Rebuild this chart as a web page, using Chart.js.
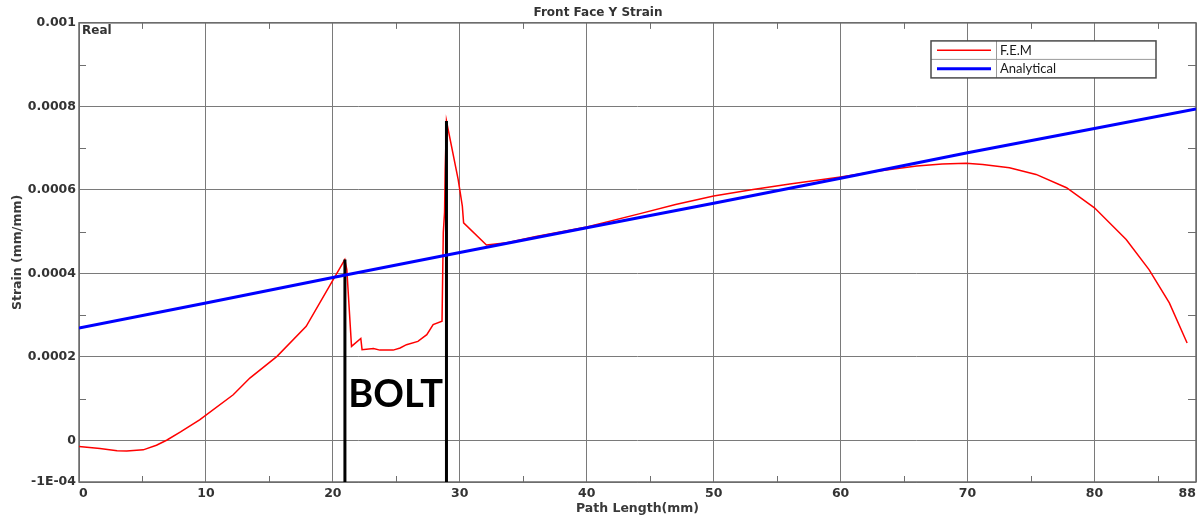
<!DOCTYPE html>
<html>
<head>
<meta charset="utf-8">
<title>Front Face Y Strain</title>
<script src="https://cdn.jsdelivr.net/npm/chart.js@4.4.0/dist/chart.umd.min.js"></script>
<style>
  html, body { margin: 0; padding: 0; background: #ffffff; }
  #c { display: block; }
</style>
</head>
<body>
<canvas id="c" width="1203" height="517"></canvas>
<script>
// FEM strain along the front face path (mm, mm/mm)
const femX = [0, 1.65, 3.0, 3.76, 5.06, 6.1, 6.9, 8.0, 9.5, 12.15, 13.46, 15.6, 17.9,
  20.94, 21.1, 21.47, 22.2, 22.3, 23.2, 23.7, 24.75, 25.3, 25.8, 26.7, 27.4, 27.9, 28.6,
  28.7, 28.8, 28.85, 28.95, 29.87, 30.2, 30.3, 32.1, 33.7, 36.0, 40.0, 44.2, 47.0, 50.0,
  53.1, 56.0, 60.0, 63.0, 66.0, 68.0, 69.9, 71.2, 73.3, 75.4, 77.8, 80.0, 82.5, 84.3,
  85.9, 87.3];
const femStrain = [-0.000015, -0.000020, -0.000025, -0.000026, -0.000023, -0.000012, 0.000000,
  0.000020, 0.000049, 0.000109, 0.000149, 0.000201, 0.000273,
  0.000433, 0.000409, 0.000225, 0.000244, 0.000217, 0.000220, 0.000216, 0.000216, 0.000221,
  0.000229, 0.000237, 0.000253, 0.000277, 0.000285,
  0.000498, 0.000546, 0.000649, 0.000765, 0.000625, 0.000561, 0.000521, 0.000468, 0.000473,
  0.000488, 0.000511, 0.000543, 0.000565, 0.000585,
  0.000601, 0.000614, 0.000631, 0.000645, 0.000657, 0.000662, 0.000664, 0.000661, 0.000653,
  0.000637, 0.000605, 0.000557, 0.000481, 0.000409, 0.000329, 0.000233];

// Analytical strain along the same path
const analyticalX = [0, 10, 20, 30, 40, 50, 60, 70, 80, 88];
const analyticalStrain = [0.000269, 0.000329, 0.000390, 0.000450, 0.000509, 0.000568,
  0.000628, 0.000689, 0.000747, 0.000794];

// Bolt hole edges and the strain at which each edge marker ends
const boltX = [20.95, 28.95];
const boltTop = [0.000433, 0.000765];

// Axis ticks
const xTickValues = [0, 10, 20, 30, 40, 50, 60, 70, 80, 88];
const xTickLabels = ['0', '10', '20', '30', '40', '50', '60', '70', '80', '88'];
const xMinorTicks = [5, 15, 25, 35, 45, 55, 65, 75, 85];
const yTickValues = [-0.0001, 0, 0.0002, 0.0004, 0.0006, 0.0008, 0.001];
const yTickLabels = ['-1E-04', '0', '0.0002', '0.0004', '0.0006', '0.0008', '0.001'];
const yMinorTicks = [0.0001, 0.0003, 0.0005, 0.0007, 0.0009];

const seriesLabels = ['F.E.M', 'Analytical'];
const seriesColors = ['#ff0000', '#0000ff'];

const GRID = '#7a7a7a';
const TEXT = '#333333';
const BOLD = 'bold';
const FAMILY = '"DejaVu Sans", sans-serif';

const toPoints = (xs, ys) => xs.map((x, i) => ({ x: x, y: ys[i] }));

// Frame around the plot plus small inward minor ticks on all four sides
const framePlugin = {
  id: 'frame',
  beforeDatasetsDraw(chart) {
    const { ctx, chartArea: a, scales: { x, y } } = chart;
    ctx.save();
    ctx.strokeStyle = '#6f6f6f';
    ctx.lineWidth = 1;
    xMinorTicks.forEach(v => {
      const px = Math.round(x.getPixelForValue(v)) + 0.5;
      ctx.beginPath();
      ctx.moveTo(px, a.bottom); ctx.lineTo(px, a.bottom - 6);
      ctx.moveTo(px, a.top); ctx.lineTo(px, a.top + 6);
      ctx.stroke();
    });
    yMinorTicks.forEach(v => {
      const py = Math.round(y.getPixelForValue(v)) + 0.5;
      ctx.beginPath();
      ctx.moveTo(a.left, py); ctx.lineTo(a.left + 7, py);
      ctx.moveTo(a.right, py); ctx.lineTo(a.right - 8, py);
      ctx.stroke();
    });
    ctx.lineWidth = 1.5;
    ctx.strokeStyle = '#6a6a6a';
    ctx.strokeRect(a.left, a.top, a.right - a.left, a.bottom - a.top);
    ctx.restore();
  }
};

// Corner tag, bolt label and the boxed legend table
const notesPlugin = {
  id: 'notes',
  afterDatasetsDraw(chart, args, opts) {
    const { ctx, chartArea: a, scales: { x, y } } = chart;
    ctx.save();

    ctx.fillStyle = TEXT;
    ctx.font = `${BOLD} 12px ${FAMILY}`;
    ctx.textAlign = 'left';
    ctx.textBaseline = 'top';
    ctx.fillText('Real', a.left + 3, a.top + 2);

    const bx = x.getPixelForValue((boltX[0] + boltX[1]) / 2);
    const by = y.getPixelForValue(opts.boltLabelAt);
    ctx.fillStyle = '#000000';
    ctx.font = 'bold 38px Lato, "Open Sans", sans-serif';
    ctx.textAlign = 'center';
    ctx.textBaseline = 'middle';
    ctx.fillText('BOLT', bx, by);

    const w = 225, h = 37, lx = a.right - 265, ly = a.top + 18, split = 65;
    ctx.fillStyle = '#ffffff';
    ctx.fillRect(lx, ly, w, h);
    ctx.strokeStyle = '#9a9a9a';
    ctx.lineWidth = 1;
    ctx.beginPath();
    ctx.moveTo(lx, ly + h / 2); ctx.lineTo(lx + w, ly + h / 2);
    ctx.moveTo(lx + split + 0.5, ly); ctx.lineTo(lx + split + 0.5, ly + h);
    ctx.stroke();
    ctx.strokeStyle = '#4a4a4a';
    ctx.lineWidth = 1.5;
    ctx.strokeRect(lx, ly, w, h);

    seriesLabels.forEach((label, i) => {
      const cy = ly + h / 4 + i * h / 2;
      ctx.strokeStyle = seriesColors[i];
      ctx.lineWidth = i === 0 ? 1.5 : 3;
      ctx.beginPath();
      ctx.moveTo(lx + 6, cy); ctx.lineTo(lx + 60, cy);
      ctx.stroke();
      ctx.fillStyle = '#1a1a1a';
      ctx.font = '13px Lato, "Open Sans", sans-serif';
      ctx.textAlign = 'left';
      ctx.textBaseline = 'middle';
      ctx.fillText(label, lx + split + 4, cy + 0.5);
    });
    ctx.restore();
  }
};

const datasets = [
  {
    label: seriesLabels[0],
    data: toPoints(femX, femStrain),
    borderColor: seriesColors[0],
    borderWidth: 1.5,
    pointRadius: 0,
    tension: 0,
    order: 2
  },
  {
    label: seriesLabels[1],
    data: toPoints(analyticalX, analyticalStrain),
    borderColor: seriesColors[1],
    borderWidth: 3,
    pointRadius: 0,
    tension: 0,
    order: 0
  }
].concat(boltX.map((bx, i) => ({
  label: 'bolt edge ' + (i + 1),
  data: [{ x: bx, y: boltTop[i] }, { x: bx, y: yTickValues[0] }],
  borderColor: '#000000',
  borderWidth: 3,
  pointRadius: 0,
  order: 1
})));

new Chart(document.getElementById('c'), {
  type: 'line',
  data: { datasets: datasets },
  options: {
    responsive: false,
    animation: false,
    devicePixelRatio: 1,
    layout: { padding: { left: 0, right: 7, top: 0, bottom: 0 } },
    plugins: {
      legend: { display: false },
      tooltip: { enabled: false },
      title: {
        display: true,
        text: 'Front Face Y Strain',
        color: TEXT,
        font: { family: FAMILY, size: 12, weight: BOLD, lineHeight: 1.2 },
        padding: { top: 5.5, bottom: 3 }
      },
      notes: { boltLabelAt: 0.00011 }
    },
    scales: {
      x: {
        type: 'linear',
        min: 0,
        max: 88,
        afterBuildTicks: axis => { axis.ticks = xTickValues.map(v => ({ value: v })); },
        afterFit: axis => { axis.height = 35; },
        ticks: {
          callback: (v, i) => xTickLabels[i],
          color: TEXT,
          font: { family: FAMILY, size: 12.5, weight: BOLD },
          align: 'inner',
          autoSkip: false,
          maxRotation: 0,
          padding: 4
        },
        grid: { color: GRID, lineWidth: 1, drawTicks: false },
        border: { display: false },
        title: {
          display: true,
          text: 'Path Length(mm)',
          color: '#3a3a3a',
          font: { family: FAMILY, size: 12.5, weight: BOLD, lineHeight: 1.2 },
          padding: { top: 0, bottom: 1 }
        }
      },
      y: {
        type: 'linear',
        min: -0.0001,
        max: 0.001,
        afterBuildTicks: axis => { axis.ticks = yTickValues.map(v => ({ value: v })); },
        afterFit: axis => { axis.width = 79; },
        ticks: {
          callback: (v, i) => yTickLabels[i],
          color: TEXT,
          font: { family: FAMILY, size: 12.5, weight: BOLD },
          autoSkip: false,
          padding: 3
        },
        grid: { color: GRID, lineWidth: 1, drawTicks: false },
        border: { display: false },
        title: {
          display: true,
          text: 'Strain (mm/mm)',
          color: '#3a3a3a',
          font: { family: FAMILY, size: 12.5, weight: BOLD, lineHeight: 1.2 },
          padding: { top: 10, bottom: 0 }
        }
      }
    }
  },
  plugins: [framePlugin, notesPlugin]
});
</script>
</body>
</html>
